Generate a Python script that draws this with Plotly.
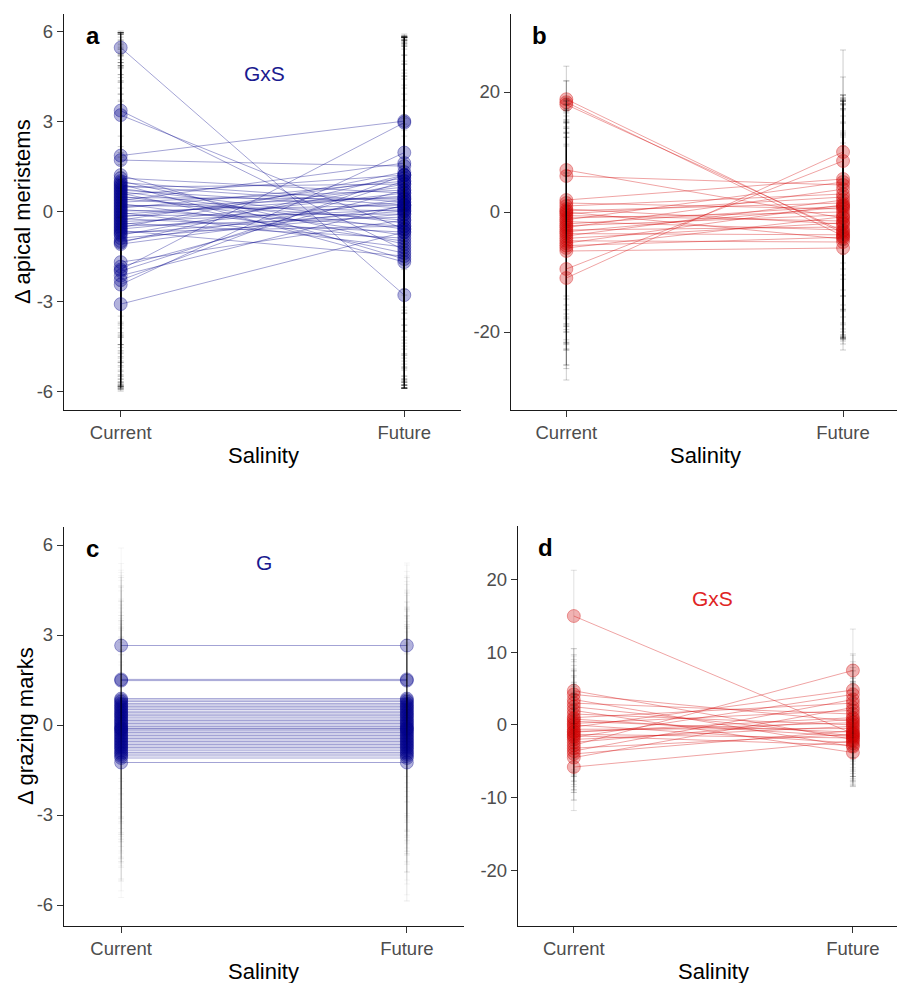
import plotly.graph_objects as go

W, H = 897, 983

# ---------------- data ----------------
salinity_labels = ["Current", "Future"]

# Panel a: Δ apical meristems (GxS)
cur_a = [5.45, 3.35, 3.2, 1.85, 1.7, 1.2, 1.1, 1.0, 0.95, 0.9, 0.85, 0.8, 0.75, 0.7, 0.65,
         0.6, 0.55, 0.5, 0.45, 0.4, 0.35, 0.3, 0.25, 0.2, 0.15, 0.1, 0.05, 0.0, -0.05, -0.1,
         -0.15, -0.2, -0.25, -0.3, -0.35, -0.4, -0.45, -0.5, -0.55, -0.6, -0.65, -0.7, -0.75,
         -0.8, -0.9, -1.0, -1.05, -1.1, -1.7, -1.85, -1.95, -2.0, -2.15, -2.3, -2.45, -3.1]
fut_a = [-2.8, -1.3, -0.6, 3.0, 1.5, -1.6, 0.6, -1.1, 0.3, -1.7, 0.2, 0.9, -0.4, 0.1, -0.6,
         -1.4, 1.2, -0.8, 0.4, -0.3, 1.6, 0.7, -1.0, 0.0, 0.45, 1.0, -0.5, 0.2, -1.2, 0.5,
         -0.1, 0.8, -0.7, 1.1, 0.05, -0.9, 0.6, -0.2, 1.3, 0.3, -1.5, -0.5, 0.0,
         0.9, -0.1, 0.4, 1.2, 0.15, -0.3, 0.7, 2.95, 1.0, 0.2, 1.2, 1.95, -0.7]
err_cur_a = [0.5, 2.6, 2.75, 4.1, 4.2, 4.7, 4.8, 4.9, 5.0, 5.1, 4.6, 4.9, 5.2, 4.5, 5.3,
             4.8, 5.0, 5.4, 4.6, 5.1, 4.9, 5.5, 4.7, 5.2, 5.0, 5.6, 4.8, 5.3, 5.0, 5.7,
             4.9, 5.4, 5.1, 5.5, 4.8, 5.2, 5.0, 5.3, 5.4, 4.9, 5.2, 5.0, 5.1,
             4.9, 4.8, 4.9, 4.7, 4.8, 4.2, 4.0, 3.9, 3.8, 3.7, 3.6, 3.5, 2.9]
err_fut_a = [3.1, 4.5, 5.2, 2.9, 4.3, 4.3, 5.2, 4.8, 5.5, 4.2, 5.4, 4.9, 5.3, 5.6, 5.1,
             4.5, 4.6, 5.0, 5.3, 5.5, 4.2, 5.1, 4.9, 5.8, 5.2, 4.8, 5.4, 5.5, 4.7, 5.3,
             5.6, 5.0, 5.2, 4.7, 5.7, 5.0, 5.1, 5.4, 4.5, 5.3, 4.4, 5.2, 5.5,
             4.9, 5.5, 5.2, 4.6, 5.4, 5.3, 5.0, 2.9, 4.8, 5.3, 4.5, 3.9, 5.1]

# Panel b (red, no label)
cur_b = [18.8, 18.3, 17.9, 7.0, 6.0, 2.0, 1.5, 1.0, 0.5, 0.2, 0.0, -0.3, -0.6, -1.0, -1.3,
         -1.6, -2.0, -2.3, -2.6, -3.0, -3.3, -3.6, -4.0, -4.4, -4.8, -5.2, -5.6, -6.0, -6.5,
         -9.5, -11.0]
fut_b = [-3.5, -4.0, -3.2, -1.0, 4.5, 5.5, 0.5, 3.0, -2.0, 1.5, -4.5, 2.5, -1.5, 0.0, 5.0,
         -3.0, 1.0, -0.5, 3.8, -2.5, 0.8, -3.8, 2.0, -1.8, -5.0, 1.2, -4.2, -0.8, -6.0,
         8.5, 10.0]
err_cur_b = [5.5, 3.5, 4.0, 10.0, 11.0, 16.0, 17.0, 15.5, 18.0, 16.5, 19.0, 17.5, 18.5, 16.0, 20.0,
             17.0, 18.0, 16.5, 19.5, 17.0, 18.5, 16.0, 19.0, 17.5, 18.0, 16.5, 20.5, 17.0, 19.0,
             16.0, 17.0]
err_fut_b = [17.0, 16.5, 18.0, 19.0, 15.0, 14.0, 18.0, 16.0, 19.0, 17.0, 17.5, 16.5, 19.5, 18.5, 14.5,
             18.0, 17.5, 19.0, 15.0, 18.5, 17.0, 17.0, 16.0, 19.0, 16.5, 17.5, 17.0, 18.0, 17.0,
             14.0, 17.0]

# Panel c: Δ grazing marks (G)
cur_c = [2.65, 1.52, 1.48, 0.88, 0.83, 0.78, 0.72, 0.67, 0.62, 0.57, 0.52, 0.46, 0.41, 0.36, 0.31,
         0.26, 0.2, 0.15, 0.1, 0.05, 0.0, -0.05, -0.1, -0.12, -0.16, -0.2, -0.25, -0.3, -0.35, -0.4,
         -0.45, -0.5, -0.55, -0.6, -0.65, -0.7, -0.75, -0.8, -0.86, -0.92, -0.97, -1.03, -1.1, -1.25]
fut_c = [2.65, 1.52, 1.48, 0.88, 0.83, 0.78, 0.72, 0.67, 0.62, 0.57, 0.52, 0.46, 0.41, 0.36, 0.31,
         0.26, 0.2, 0.15, 0.1, 0.05, 0.0, -0.05, -0.1, -0.12, -0.16, -0.2, -0.25, -0.3, -0.35, -0.4,
         -0.45, -0.5, -0.55, -0.6, -0.65, -0.7, -0.75, -0.8, -0.86, -0.92, -0.97, -1.03, -1.1, -1.25]
err_cur_c = [3.25, 3.4, 3.6, 4.1, 3.3, 4.6, 2.5, 3.8, 4.2, 2.9, 4.4, 3.1, 3.7, 4.8, 2.6,
             3.5, 4.0, 3.2, 4.5, 2.8, 3.9, 4.7, 3.0, 3.6, 4.3, 2.7, 3.4, 4.9, 3.1, 3.8,
             4.1, 2.6, 3.5, 4.6, 3.0, 3.9, 4.4, 2.8, 3.7, 4.2, 3.3, 4.5, 3.6, 4.5]
err_fut_c = [2.75, 3.6, 3.2, 3.9, 4.5, 3.0, 4.2, 2.6, 3.7, 4.4, 3.1, 4.0, 2.8, 3.5, 4.6,
             3.3, 3.9, 2.7, 4.3, 3.6, 4.1, 2.9, 4.5, 3.4, 3.8, 4.7, 3.0, 3.6, 4.2, 2.8,
             3.9, 4.4, 3.2, 3.7, 4.0, 4.6, 3.1, 3.5, 4.8, 3.3, 4.2, 4.85, 3.8, 4.6]

# Panel d (red, GxS)
cur_d = [15.0, 4.7, 4.2, 3.5, 3.0, 2.5, 2.0, 1.5, 1.0, 0.5, 0.2, 0.0, -0.3, -0.6, -1.0,
         -1.3, -1.7, -2.0, -2.4, -2.8, -3.2, -3.6, -4.0, -4.5, -5.8, 0.8, -0.9, -1.5]
fut_d = [-1.2, -2.0, 0.5, -3.0, 1.5, -1.5, -3.8, 0.0, 3.0, -1.0, 2.0, -2.5, 4.8, -0.5, 1.0,
         -1.8, 4.2, -0.2, 0.8, 7.5, -1.3, 3.5, -0.8, 2.4, -2.2, -1.6, 0.3, -2.8]
err_cur_d = [6.3, 5.8, 5.5, 6.0, 5.2, 6.5, 5.4, 6.2, 5.6, 7.0, 5.3, 6.8, 5.9, 6.4, 5.5,
             7.2, 6.0, 5.8, 6.6, 5.4, 6.1, 5.7, 6.3, 5.9, 6.0, 9.7, 6.2, 5.6]
err_fut_d = [5.2, 5.8, 5.5, 5.4, 6.0, 5.6, 4.7, 5.9, 5.3, 6.1, 5.4, 5.7, 5.0, 6.2, 5.5,
             5.9, 5.4, 6.0, 5.6, 5.7, 6.1, 5.2, 6.3, 5.5, 5.8, 6.0, 5.7, 5.6]

ytick_a = [-6, -3, 0, 3, 6]
ytext_a = ["-6", "-3", "0", "3", "6"]
ytick_b = [-20, 0, 20]
ytext_b = ["-20", "0", "20"]
ytick_d = [-20, -10, 0, 10, 20]
ytext_d = ["-20", "-10", "0", "10", "20"]

# ---------------- layout helpers ----------------
def px(x):
    return x / W

def py(y):
    return 1 - y / H

FONT = "Arial, Liberation Sans, sans-serif"
NAVY = (0, 0, 139)
RED = (210, 0, 0)

panels = [
    dict(cur=cur_a, fut=fut_a, ec=err_cur_a, ef=err_fut_a, rgb=NAVY, bar=0.2,
         xdom=(64, 461), ydom=(14, 410), xr=[-0.2, 1.2], yr=[-6.63, 6.57],
         tv=ytick_a, tt=ytext_a),
    dict(cur=cur_b, fut=fut_b, ec=err_cur_b, ef=err_fut_b, rgb=RED, bar=0.2,
         xdom=(511, 897), ydom=(14, 410), xr=[-0.2, 1.195], yr=[-33.0, 33.0],
         tv=ytick_b, tt=ytext_b),
    dict(cur=cur_c, fut=fut_c, ec=err_cur_c, ef=err_fut_c, rgb=NAVY, bar=0.04,
         xdom=(64, 464), ydom=(527, 926), xr=[-0.2, 1.2], yr=[-6.7, 6.6],
         tv=ytick_a, tt=ytext_a),
    dict(cur=cur_d, fut=fut_d, ec=err_cur_d, ef=err_fut_d, rgb=RED, bar=0.12,
         xdom=(518, 897), ydom=(526, 926), xr=[-0.2, 1.158], yr=[-27.7, 27.4],
         tv=ytick_d, tt=ytext_d),
]

fig = go.Figure()
layout = dict(
    width=W, height=H, margin=dict(l=0, r=0, t=0, b=0),
    paper_bgcolor="white", plot_bgcolor="white", showlegend=False,
    font=dict(family=FONT),
)

for i, p in enumerate(panels, start=1):
    sx = "" if i == 1 else str(i)
    r, g, b = p["rgb"]
    line_col = f"rgba({r},{g},{b},0.36)"
    fill_col = f"rgba({r},{g},{b},0.30)"
    edge_col = f"rgba({r},{g},{b},0.35)"
    bar_col = f"rgba(0,0,0,{p['bar']})"
    for c, f, ec, ef in zip(p["cur"], p["fut"], p["ec"], p["ef"]):
        fig.add_trace(go.Scatter(
            x=[0, 1], y=[c, f], mode="lines+markers",
            line=dict(color=line_col, width=1),
            marker=dict(size=13, color=fill_col, line=dict(color=edge_col, width=1)),
            error_y=dict(type="data", array=[ec, ef], color=bar_col, thickness=1, width=3),
            xaxis="x" + sx, yaxis="y" + sx, hoverinfo="skip",
        ))
    layout["xaxis" + sx] = dict(
        domain=[px(p["xdom"][0]), px(p["xdom"][1])], range=p["xr"], anchor="y" + sx,
        tickvals=[0, 1], ticktext=salinity_labels, showgrid=False, zeroline=False,
        showline=True, linecolor="#1a1a1a", linewidth=1.3, ticks="outside", ticklen=6,
        tickcolor="#333333", tickwidth=1.2, tickfont=dict(size=18.5, color="#4d4d4d", family=FONT),
    )
    layout["yaxis" + sx] = dict(
        domain=[py(p["ydom"][1]), py(p["ydom"][0])], range=p["yr"], anchor="x" + sx,
        tickvals=p["tv"], ticktext=p["tt"], showgrid=False, zeroline=False,
        showline=True, linecolor="#1a1a1a", linewidth=1.3, ticks="outside", ticklen=6,
        tickcolor="#333333", tickwidth=1.2, tickfont=dict(size=18.5, color="#4d4d4d", family=FONT),
    )

ann = []
def text(x, y, s, size, color="black", bold=False, angle=0):
    if bold:
        s = "<b>" + s + "</b>"
    ann.append(dict(x=px(x), y=py(y), xref="paper", yref="paper", text=s, showarrow=False,
                    xanchor="center", yanchor="middle", textangle=angle,
                    font=dict(size=size, color=color, family=FONT)))

# panel letters
text(93, 35, "a", 24, bold=True)
text(539, 35, "b", 24, bold=True)
text(92, 548, "c", 24, bold=True)
text(545, 547, "d", 24, bold=True)
# effect labels
text(264, 73, "GxS", 21, color="#1a1a8f")
text(264, 562, "G", 21, color="#1a1a8f")
text(712, 598, "GxS", 21, color="#e02424")
# axis titles
text(263, 455, "Salinity", 22)
text(705, 455, "Salinity", 22)
text(263, 971, "Salinity", 22)
text(713, 971, "Salinity", 22)
text(23, 212, "Δ apical meristems", 22, angle=-90)
text(25, 726, "Δ grazing marks", 22, angle=-90)

layout["annotations"] = ann
fig.update_layout(**layout)
fig.write_html(
    "out.html",
    config={"displayModeBar": False},
    post_script="document.body.style.margin='0';document.body.style.overflow='hidden';",
)
